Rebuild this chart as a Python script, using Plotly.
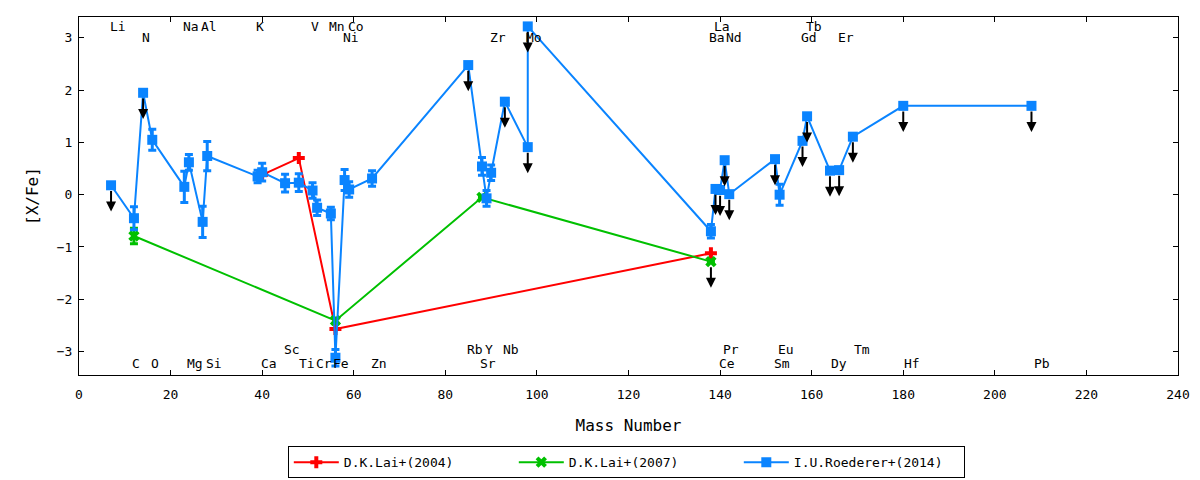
import plotly.graph_objects as go

# D.K.Lai+(2004)
lai04_mass = [40, 48, 56, 138]
lai04_val = [0.38, 0.70, -2.57, -1.12]

# D.K.Lai+(2007)
lai07_mass = [12, 56, 88, 138]
lai07_val = [-0.79, -2.41, -0.05, -1.28]
lai07_err = [0.15, 0.05, None, None]
lai07_lim = [0, 0, 0, 1]

# I.U.Roederer+(2014)
roe_mass = [7, 12, 14, 16, 23, 24, 27, 28, 39, 40, 45, 48, 51, 52, 55, 56, 58, 59, 64,
            85, 88, 89, 90, 93, 98, 98,
            138, 139, 140, 141, 142, 152, 153, 158, 159, 164, 166, 169, 180, 208]
roe_val = [0.18, -0.45, 1.95, 1.05, 0.15, 0.62, -0.52, 0.74, 0.35, 0.43, 0.22, 0.23, 0.08, -0.25, -0.36, -3.12, 0.28, 0.10, 0.31,
           2.48, 0.54, -0.07, 0.42, 1.78, 0.91, 3.22,
           -0.70, 0.11, 0.09, 0.66, 0.01, 0.68, 0.00, 1.03, 1.50, 0.46, 0.47, 1.11, 1.70, 1.70]
roe_err = [None, 0.22, None, 0.20, 0.30, 0.15, 0.30, 0.28, 0.12, 0.17, 0.17, 0.17, 0.15, 0.15, 0.12, 0.16, 0.20, 0.15, 0.15,
           None, 0.17, 0.15, 0.15, None, None, None,
           0.13, None, None, None, None, None, 0.20, None, None, None, None, None, None, None]
roe_lim = [1, 0, 1, 0, 0, 0, 0, 0, 0, 0, 0, 0, 0, 0, 0, 0, 0, 0, 0,
           1, 0, 0, 0, 1, 1, 1,
           0, 1, 1, 1, 1, 1, 0, 1, 1, 1, 1, 1, 1, 1]

# element labels (mass number, row)
top1_el = ["Li", "Na", "Al", "K", "V", "Mn", "Co", "La", "Tb"]
top1_mass = [7, 23, 27, 39, 51, 55, 59, 139, 159]
top2_el = ["N", "Ni", "Zr", "Mo", "Ba", "Nd", "Gd", "Er"]
top2_mass = [14, 58, 90, 98, 138, 141.6, 158, 166]
bot1_el = ["Sc", "Rb", "Y", "Nb", "Pr", "Eu", "Tm"]
bot1_mass = [45, 85, 89, 93, 141, 153, 169.5]
bot2_el = ["C", "O", "Mg", "Si", "Ca", "Ti", "Cr", "Fe", "Zn", "Sr", "Ce", "Sm", "Dy", "Hf", "Pb"]
bot2_mass = [12, 16, 24, 28, 40, 48.3, 52, 55.7, 64, 88, 140, 152, 164.5, 180.5, 208.8]

RED = "#ff0000"
GREEN = "#00c000"
BLUE = "#0a84ff"
FONT = "DejaVu Sans Mono"

fig = go.Figure()

fig.add_trace(go.Scatter(
    x=lai04_mass, y=lai04_val, mode="lines+markers", name="D.K.Lai+(2004)",
    line=dict(color=RED, width=2),
    marker=dict(symbol="cross", size=10, color=RED),
))
fig.add_trace(go.Scatter(
    x=lai07_mass, y=lai07_val, mode="lines+markers", name="D.K.Lai+(2007)",
    line=dict(color=GREEN, width=2),
    marker=dict(symbol="x", size=10, color=GREEN),
    error_y=dict(type="data", array=lai07_err, color=GREEN, thickness=3, width=4),
))
fig.add_trace(go.Scatter(
    x=roe_mass, y=roe_val, mode="lines+markers", name="I.U.Roederer+(2014)",
    line=dict(color=BLUE, width=2),
    marker=dict(symbol="square", size=10, color=BLUE),
    error_y=dict(type="data", array=roe_err, color=BLUE, thickness=3, width=4),
))

# upper limit arrows
ann = []
for ms, vs, ls in [(roe_mass, roe_val, roe_lim), (lai07_mass, lai07_val, lai07_lim)]:
    for m, v, l in zip(ms, vs, ls):
        if l:
            ann.append(dict(x=m, y=v - 0.5, ax=m, ay=v - 0.08, xref="x", yref="y",
                            axref="x", ayref="y", text="", showarrow=True,
                            arrowhead=2, arrowsize=1, arrowwidth=2, arrowcolor="black",
                            standoff=0, startstandoff=0))

for els, ms, yy in [(top1_el, top1_mass, 3.22), (top2_el, top2_mass, 3.01),
                    (bot1_el, bot1_mass, -2.96), (bot2_el, bot2_mass, -3.23)]:
    for e, m in zip(els, ms):
        ann.append(dict(x=m, y=yy, xref="x", yref="y", text=e, showarrow=False,
                        xanchor="left", yanchor="middle", xshift=-3.5,
                        font=dict(family=FONT, size=13, color="black")))

fig.update_layout(
    width=1200, height=480,
    margin=dict(l=71, r=30, t=9, b=113, autoexpand=False),
    plot_bgcolor="white", paper_bgcolor="white",
    font=dict(family=FONT, size=13, color="black"),
    annotations=ann,
    legend=dict(orientation="h", x=0.498, xanchor="center",
                yref="container", y=0.087, yanchor="top",
                bordercolor="black", borderwidth=1, bgcolor="white",
                entrywidth=165, entrywidthmode="pixels", itemwidth=45,
                font=dict(family=FONT, size=13)),
)
fig.update_xaxes(title_text="Mass Number", range=[0, 240], dtick=20, tick0=0,
                 showline=True, linecolor="black", linewidth=1, mirror="ticks",
                 ticks="inside", ticklen=5, tickcolor="black", showgrid=False,
                 zeroline=False, ticklabelstandoff=7, title_standoff=19)
fig.update_yaxes(title_text="[X/Fe]", range=[-3.45, 3.4], dtick=1, tick0=0,
                 showline=True, linecolor="black", linewidth=1, mirror="ticks",
                 ticks="inside", ticklen=5, tickcolor="black", showgrid=False,
                 zeroline=False, ticklabelstandoff=3, title_standoff=14)

fig.write_html("out.html")
